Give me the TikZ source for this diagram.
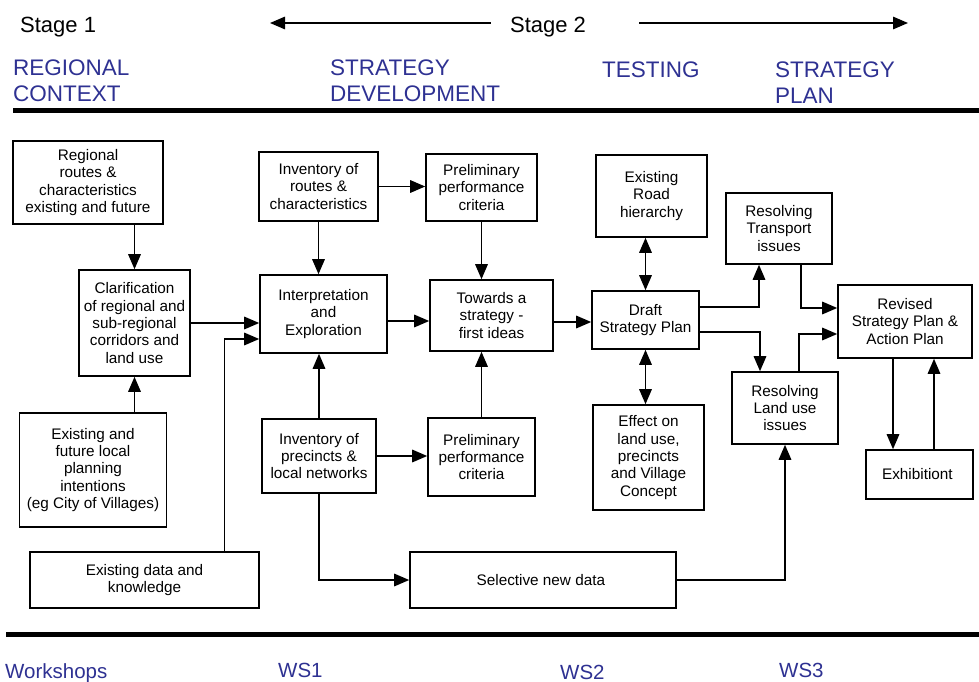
\documentclass[tikz,border=0pt]{standalone}
\usepackage{fontspec}
\setmainfont{Liberation Sans}
\usetikzlibrary{arrows.meta}
\definecolor{stageblue}{RGB}{46,49,146}

\begin{document}
\begin{tikzpicture}[x=1pt,y=-1pt,
    box/.style={rectangle,draw,line width=1.6pt,align=center,inner sep=2pt,
      font=\fontsize{15.3}{17.3}\selectfont},
    arr/.style={line width=1.6pt,-{Triangle[length=15pt,width=12.5pt]}},
    dbl/.style={line width=1.6pt,{Triangle[length=15pt,width=12.5pt]}-{Triangle[length=15pt,width=12.5pt]}},
    stage/.style={font=\fontsize{22}{26}\selectfont,inner sep=0pt},
    phase/.style={font=\fontsize{22.5}{26}\selectfont,text=stageblue,align=left,
      anchor=north west,inner sep=0pt},
    ws/.style={font=\fontsize{20.5}{24}\selectfont,text=stageblue,anchor=base west,inner sep=0pt}]

    \useasboundingbox (0,0) rectangle (979,682);

    % stages and phases
    \node(stage1) [stage,anchor=base west] at (20,33) {Stage 1};
    \node(stage2) [stage,anchor=base] at (548,33) {Stage 2};

    \coordinate (sl) at (270,23);
    \coordinate (sr) at (908,23);
    \draw[arr,line width=1.4pt] (stage2.west |- sl) ++(-19,0) -- (sl);
    \draw[arr,line width=1.4pt] (stage2.east |- sr) ++(53,0) -- (sr);

    \node(regctx) [phase] at (13,60) {REGIONAL\\CONTEXT};
    \node(stratdev) [phase] at (330,60) {STRATEGY\\DEVELOPMENT};
    \node(testing) [phase] at (602,62) {TESTING};
    \node(stratplan) [phase] at (775,62) {STRATEGY\\PLAN};

    \draw[line width=5pt] (13,111) -- (979,111);
    \draw[line width=5pt] (6,634.5) -- (979,634.5);

    % stage 1
    \node(regional) [box,minimum width=150pt,minimum height=83pt] at (88,182.5) {
      Regional\\routes \&\\characteristics\\existing and future
    };

    \node(clarify) [box,minimum width=111pt,minimum height=106pt] at (134.5,323) {
      Clarification\\of regional and\\sub-regional\\corridors and\\land use
    };

    \node(local) [box,minimum width=147pt,minimum height=114pt] at (93,470) {
      Existing and\\future local\\planning\\intentions\\(eg City of Villages)
    };

    \node(data) [box,minimum width=229pt,minimum height=56pt] at (144.5,580) {
      Existing data and\\knowledge
    };

    % strategy development
    \node(invroutes) [box,minimum width=119pt,minimum height=69pt] at (318.5,186.5) {
      Inventory of\\routes \&\\characteristics
    };

    \node(interp) [box,minimum width=127pt,minimum height=78pt] at (323.5,314) {
      Interpretation\\and\\Exploration
    };

    \node(invprec) [box,minimum width=114pt,minimum height=74pt] at (319,456) {
      Inventory of\\precincts \&\\local networks
    };

    \node(crit1) [box,minimum width=111pt,minimum height=67pt] at (481.5,187.5) {
      Preliminary\\performance\\criteria
    };

    \node(towards) [box,minimum width=123pt,minimum height=71pt] at (491.5,315.5) {
      Towards a\\strategy -\\first ideas
    };

    \node(crit2) [box,minimum width=107pt,minimum height=78pt] at (481.5,457) {
      Preliminary\\performance\\criteria
    };

    \node(newdata) [box,minimum width=266pt,minimum height=56pt] at (543,580) {
      Selective new data
    };

    % testing
    \node(road) [box,minimum width=111pt,minimum height=82pt] at (651.5,196) {
      Existing\\Road\\hierarchy
    };

    \node(draft) [box,minimum width=107pt,minimum height=58pt] at (645.5,320) {
      Draft\\Strategy Plan
    };

    \node(effect) [box,minimum width=111pt,minimum height=105pt] at (648.5,457.5) {
      Effect on\\land use,\\precincts\\and Village\\Concept
    };

    % strategy plan
    \node(transport) [box,minimum width=106pt,minimum height=71pt] at (779,228.5) {
      Resolving\\Transport\\issues
    };

    \node(landuse) [box,minimum width=106pt,minimum height=72pt] at (785,408) {
      Resolving\\Land use\\issues
    };

    \node(revised) [box,minimum width=134pt,minimum height=73pt] at (905,321.5) {
      Revised\\Strategy Plan \&\\Action Plan
    };

    \node(exhib) [box,minimum width=107pt,minimum height=49pt] at (919.5,474.5) {
      Exhibitiont
    };

    % connectors
    \draw[arr] (regional.south -| clarify.north) -- (clarify.north);
    \draw[arr] (local.north -| clarify.south) -- (clarify.south);
    \draw[arr] (clarify.east) -- (clarify.east -| interp.west);
    \draw[arr] ([xshift=80pt]data.north) |- ([yshift=-25pt]interp.west);

    \draw[arr] (invroutes.south) -- (invroutes.south |- interp.north);
    \draw[arr] (invroutes.east) -- (invroutes.east -| crit1.west);
    \draw[arr] (crit1.south) -- (crit1.south |- towards.north);
    \draw[arr] ([yshift=-7pt]interp.east) -- ([yshift=-7pt]interp.east -| towards.west);
    \draw[arr] (invprec.north) -- (invprec.north |- interp.south);
    \draw[arr] (invprec.east) -- (invprec.east -| crit2.west);
    \draw[arr] (crit2.north) -- (crit2.north |- towards.south);
    \draw[arr] (invprec.south) |- (newdata.west);
    \draw[arr] (newdata.east) -| (landuse.south);

    \draw[arr] ([yshift=-6.5pt]towards.east) -- ([yshift=-6.5pt]towards.east -| draft.west);
    \draw[dbl] (draft.north |- road.south) -- (draft.north);
    \draw[dbl] (draft.south) -- (draft.south |- effect.north);
    \draw[arr] ([yshift=13pt]draft.east) -| ([xshift=-20pt]transport.south);
    \draw[arr] ([yshift=-12pt]draft.east) -| ([xshift=-25pt]landuse.north);

    \draw[arr] ([xshift=22pt]transport.south) |- ([yshift=13.5pt]revised.west);
    \draw[arr] ([xshift=14pt]landuse.north) |- ([yshift=-12.5pt]revised.west);
    \draw[arr] ([xshift=-12pt]revised.south) -- ([xshift=-12pt]revised.south |- exhib.north);
    \draw[arr] ([xshift=14.5pt]exhib.north) -- ([xshift=14.5pt]exhib.north |- revised.south);

    % workshops
    \node(wshop) [ws] at (5,678) {Workshops};
    \node(ws1) [ws] at (278,677) {WS1};
    \node(ws2) [ws] at (560,679) {WS2};
    \node(ws3) [ws] at (779,677) {WS3};

  \end{tikzpicture}
\end{document}
